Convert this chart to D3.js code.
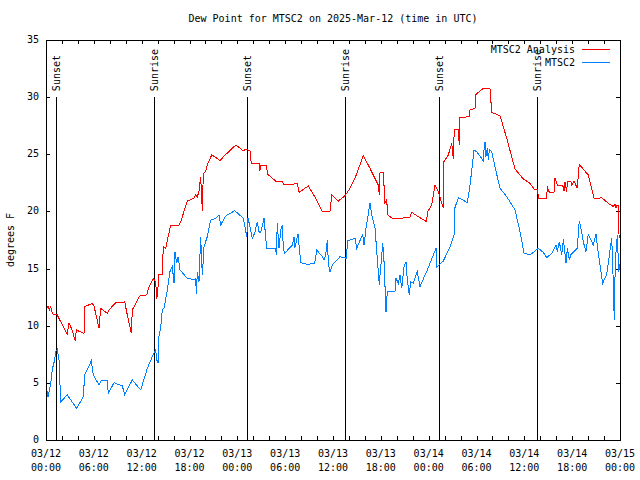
<!DOCTYPE html>
<html>
<head>
<meta charset="utf-8">
<script src="https://cdn.jsdelivr.net/npm/d3@7"></script>
<style>
  html, body { margin: 0; padding: 0; background: #fff; }
  text { font-family: "DejaVu Sans Mono", "Liberation Mono", monospace; font-size: 10px; fill: #000; }
</style>
</head>
<body>
<svg id="chart" width="640" height="480"></svg>
<script>
// ---- data (hours after 2025-03-12 00:00 UTC, degrees F) ----
const analysisHours = [0.09,0.25,0.41,0.59,0.66,0.92,1.42,1.84,2.26,2.67,2.89,3.10,3.26,3.68,3.80,4.26,4.77,4.85,5.81,6.02,6.65,6.86,7.69,7.90,8.74,9.78,9.87,10.20,10.70,10.83,11.67,11.88,12.63,12.92,13.46,13.76,13.89,14.05,14.17,14.59,14.71,15.01,15.64,16.68,16.90,17.72,18.56,18.78,18.98,19.19,19.40,19.61,19.73,20.03,20.23,20.78,21.29,21.83,22.33,22.95,23.80,24.75,25.05,25.59,25.75,26.72,26.84,26.93,27.68,27.76,28.81,29.64,29.77,31.11,31.52,31.74,32.90,33.83,34.66,35.62,35.84,36.67,37.51,38.13,38.76,39.80,40.64,41.68,41.81,41.90,42.31,42.52,42.74,42.86,43.56,44.74,44.82,45.66,45.87,46.70,47.75,47.83,48.38,48.80,49.21,49.84,49.92,50.46,50.89,51.09,51.21,51.72,51.84,51.93,53.10,53.19,53.81,53.94,54.85,55.69,55.91,56.95,57.79,58.83,59.87,60.71,61.21,61.68,61.75,62.81,62.88,63.13,63.72,63.85,64.14,64.81,64.98,65.10,65.32,65.39,65.82,65.94,66.23,66.64,66.89,67.82,68.02,68.78,69.70,70.53,71.16,71.37,71.50,71.66,71.84,71.88,72.00];
const analysisValues = [11.52,11.75,11.38,11.75,11.38,10.94,10.94,10.35,9.77,9.28,10.26,9.91,9.63,8.66,9.63,9.48,9.34,11.66,11.96,11.73,9.77,11.52,11.09,11.38,12.01,12.01,12.10,10.94,9.34,11.38,12.54,12.63,12.69,13.41,14.15,13.83,12.31,13.41,14.44,14.44,16.91,16.77,18.81,18.81,19.10,20.91,21.15,21.44,21.29,21.73,23.04,20.04,23.34,23.48,24.06,24.94,24.73,24.44,24.85,25.23,25.81,25.31,25.44,25.31,24.21,24.21,23.56,23.98,23.98,23.28,22.66,22.66,22.40,22.40,22.46,21.67,22.23,21.15,19.98,19.98,21.44,20.91,21.38,22.02,22.90,24.88,23.77,22.31,21.44,23.42,23.42,20.71,21.00,19.69,19.34,19.34,19.49,19.49,19.92,19.54,19.10,19.92,20.56,22.31,21.73,20.27,24.35,24.94,25.96,24.59,27.19,27.19,25.81,28.20,28.29,28.88,29.02,30.25,30.77,30.77,28.67,28.38,26.40,23.71,22.84,22.46,21.96,21.96,21.15,21.15,22.17,21.67,21.67,22.95,22.31,22.31,21.79,22.60,21.73,22.60,22.66,22.31,22.66,22.02,24.12,23.34,23.19,21.09,21.20,20.71,20.42,20.62,20.33,20.56,20.56,17.73,17.73];

const stationHours = [0.09,0.25,0.59,0.79,0.92,1.09,1.22,1.42,1.63,1.84,2.67,3.85,4.68,4.85,5.68,5.93,6.65,6.94,7.69,7.81,8.53,9.57,9.87,10.83,11.88,12.71,13.55,13.76,13.89,14.05,14.17,14.39,14.59,14.80,15.22,15.55,15.84,16.06,16.18,16.39,16.56,16.81,17.72,18.35,18.78,18.86,18.98,19.19,19.40,19.61,19.82,20.23,20.66,21.29,21.70,21.91,22.54,23.67,24.75,24.92,25.17,25.34,25.59,25.88,26.17,26.51,26.72,26.93,27.35,27.68,28.81,28.89,29.01,29.23,29.44,29.64,29.77,29.94,30.90,31.11,31.20,31.61,31.95,32.78,33.70,33.96,34.66,34.87,35.08,35.29,35.41,35.50,35.62,35.91,36.88,37.72,37.79,38.76,38.97,39.73,39.89,40.14,40.64,40.86,41.27,41.81,41.90,42.24,42.40,42.65,42.81,43.78,43.90,44.19,44.40,44.62,44.91,45.16,45.32,45.57,45.74,46.07,46.57,46.91,47.54,47.75,48.25,48.92,48.93,49.84,50.68,51.18,51.30,51.72,52.27,52.85,53.19,53.69,54.02,54.65,54.85,54.94,55.07,55.19,55.36,55.48,55.61,55.91,56.32,56.95,57.79,58.83,59.46,59.96,60.71,61.75,62.38,62.81,63.43,63.97,64.14,64.39,64.69,64.90,65.23,65.39,65.64,65.82,66.64,66.89,67.19,67.39,67.73,68.02,68.65,68.99,69.28,69.83,70.33,70.96,71.08,71.28,71.38,71.50,71.66,71.84,72.00];
const stationValues = [4.38,3.79,4.96,6.13,6.56,7.00,7.73,7.94,7.00,3.35,3.94,2.77,3.79,5.69,6.91,5.69,4.81,5.25,5.19,4.09,5.01,4.73,4.00,5.25,4.38,6.27,7.64,7.88,7.00,6.76,9.04,9.91,11.38,11.52,13.13,14.73,15.17,13.71,16.48,15.46,16.04,14.88,14.15,14.06,14.09,12.78,14.73,13.85,17.79,14.44,16.91,17.79,19.25,19.40,19.69,18.81,19.60,20.07,19.40,18.81,17.79,19.40,18.67,17.65,18.09,19.10,18.23,18.14,19.40,16.77,16.77,16.19,18.96,16.77,18.38,18.81,16.77,16.34,17.06,17.79,16.77,18.03,15.51,15.37,15.46,16.63,16.04,15.75,16.19,17.50,15.60,15.17,14.73,15.31,16.04,15.90,17.41,17.65,16.77,18.00,17.06,18.52,20.71,19.69,18.52,13.56,14.44,17.21,15.60,11.23,12.98,13.04,14.15,13.71,14.44,13.27,15.17,15.60,14.00,12.69,13.85,13.71,14.73,13.41,14.44,14.73,15.60,16.77,15.08,15.66,16.91,17.94,20.33,21.20,21.00,20.77,22.31,25.38,25.23,24.65,24.41,25.38,26.10,24.79,25.58,24.50,25.38,25.23,23.91,22.02,21.29,20.13,18.23,16.34,16.19,16.77,16.42,15.95,16.34,17.06,16.48,17.35,16.19,17.56,15.46,16.77,15.75,16.19,16.77,19.16,18.23,17.35,16.48,18.00,17.06,18.00,16.34,13.71,14.50,17.65,15.60,10.50,14.44,16.48,17.94,14.73,15.40];

const sunsetHours = [1.2, 25.25, 49.3];
const sunriseHours = [13.55, 37.52, 61.62];
const yTickValues = [0, 5, 10, 15, 20, 25, 30, 35];
const seriesNames = ["MTSC2 Analysis", "MTSC2"];
const seriesColors = ["#ff0000", "#0080ff"];
const titleText = "Dew Point for MTSC2 on 2025-Mar-12 (time in UTC)";
const yLabelText = "degrees F";

// ---- setup ----
const T0 = Date.UTC(2025, 2, 12, 0, 0, 0);
const toDate = h => new Date(T0 + h * 3600e3);

const svg = d3.select("#chart");
const L = 46, R = 620, T = 40, B = 440;

const x = d3.scaleUtc().domain([toDate(0), toDate(72)]).range([L, R]);
const y = d3.scaleLinear().domain([0, 35]).range([B, T]);

// title
svg.append("text").attr("x", (L + R) / 2).attr("y", 19)
  .attr("text-anchor", "middle").attr("dominant-baseline", "middle").text(titleText);

// y label
svg.append("text").attr("transform", `translate(11,${(T + B) / 2}) rotate(-90)`)
  .attr("text-anchor", "middle").attr("dominant-baseline", "middle").text(yLabelText);

// ticks
const minorTicks = d3.range(0, 73, 2).map(toDate);
const majorTicks = d3.range(0, 73, 6).map(toDate);

const g = svg.append("g").attr("shape-rendering", "crispEdges");
const tickStyle = sel => { sel.select(".domain").remove(); sel.selectAll("line").attr("stroke", "#000"); sel.selectAll("text").remove(); };

g.append("g").attr("transform", `translate(0,${B})`)
  .call(d3.axisBottom(x).tickValues(minorTicks).tickSize(-4).tickFormat("")).call(tickStyle);
g.append("g").attr("transform", `translate(0,${T})`)
  .call(d3.axisTop(x).tickValues(minorTicks).tickSize(-4).tickFormat("")).call(tickStyle);
g.append("g").attr("transform", `translate(${L},0)`)
  .call(d3.axisLeft(y).tickValues(yTickValues).tickSize(-4).tickFormat("")).call(tickStyle);
g.append("g").attr("transform", `translate(${R},0)`)
  .call(d3.axisRight(y).tickValues(yTickValues).tickSize(-4).tickFormat("")).call(tickStyle);

// y tick labels
svg.append("g").selectAll("text").data(yTickValues).join("text")
  .attr("x", L - 7).attr("y", d => y(d)).attr("text-anchor", "end")
  .attr("dominant-baseline", "middle").text(d => d);

// x tick labels (two lines)
const fmtDate = d3.utcFormat("%m/%d"), fmtTime = d3.utcFormat("%H:%M");
const xl = svg.append("g").selectAll("g").data(majorTicks).join("g");
xl.append("text").attr("x", d => x(d)).attr("y", 454).attr("text-anchor", "middle")
  .attr("dominant-baseline", "middle").text(d => fmtDate(d));
xl.append("text").attr("x", d => x(d)).attr("y", 468).attr("text-anchor", "middle")
  .attr("dominant-baseline", "middle").text(d => fmtTime(d));

// sun event lines
const sunEvents = sunsetHours.map(h => ({ h, label: "Sunset" }))
  .concat(sunriseHours.map(h => ({ h, label: "Sunrise" })));
const se = svg.append("g").selectAll("g").data(sunEvents).join("g");
se.append("line")
  .attr("x1", d => Math.round(x(toDate(d.h))) + 0.5).attr("x2", d => Math.round(x(toDate(d.h))) + 0.5)
  .attr("y1", y(30)).attr("y2", y(0)).attr("stroke", "#000").attr("stroke-width", 1)
  .attr("shape-rendering", "crispEdges");
se.append("text")
  .attr("transform", d => `translate(${Math.round(x(toDate(d.h))) + 4},${y(30) - 6}) rotate(-90)`)
  .attr("text-anchor", "start").text(d => d.label);

// data lines
const line = d3.line().x(d => x(toDate(d[0]))).y(d => y(d[1]));
const analysis = analysisHours.map((h, i) => [h, analysisValues[i]]);
const station = stationHours.map((h, i) => [h, stationValues[i]]);

svg.append("path").datum(analysis).attr("d", line)
  .attr("fill", "none").attr("stroke", seriesColors[0]).attr("stroke-width", 1)
  .attr("shape-rendering", "crispEdges");
svg.append("path").datum(station).attr("d", line)
  .attr("fill", "none").attr("stroke", seriesColors[1]).attr("stroke-width", 1)
  .attr("shape-rendering", "crispEdges");

// border
svg.append("rect").attr("x", L + 0.5).attr("y", T + 0.5).attr("width", R - L).attr("height", B - T)
  .attr("fill", "none").attr("stroke", "#000").attr("shape-rendering", "crispEdges");

// legend
const lg = svg.append("g").selectAll("g").data(seriesNames).join("g");
lg.append("text").attr("x", 575).attr("y", (d, i) => 50 + i * 13)
  .attr("text-anchor", "end").attr("dominant-baseline", "middle").text(d => d);
lg.append("line").attr("x1", 582).attr("x2", 610)
  .attr("y1", (d, i) => 49.5 + i * 13).attr("y2", (d, i) => 49.5 + i * 13)
  .attr("stroke", (d, i) => seriesColors[i]).attr("stroke-width", 1)
  .attr("shape-rendering", "crispEdges");
</script>
</body>
</html>
